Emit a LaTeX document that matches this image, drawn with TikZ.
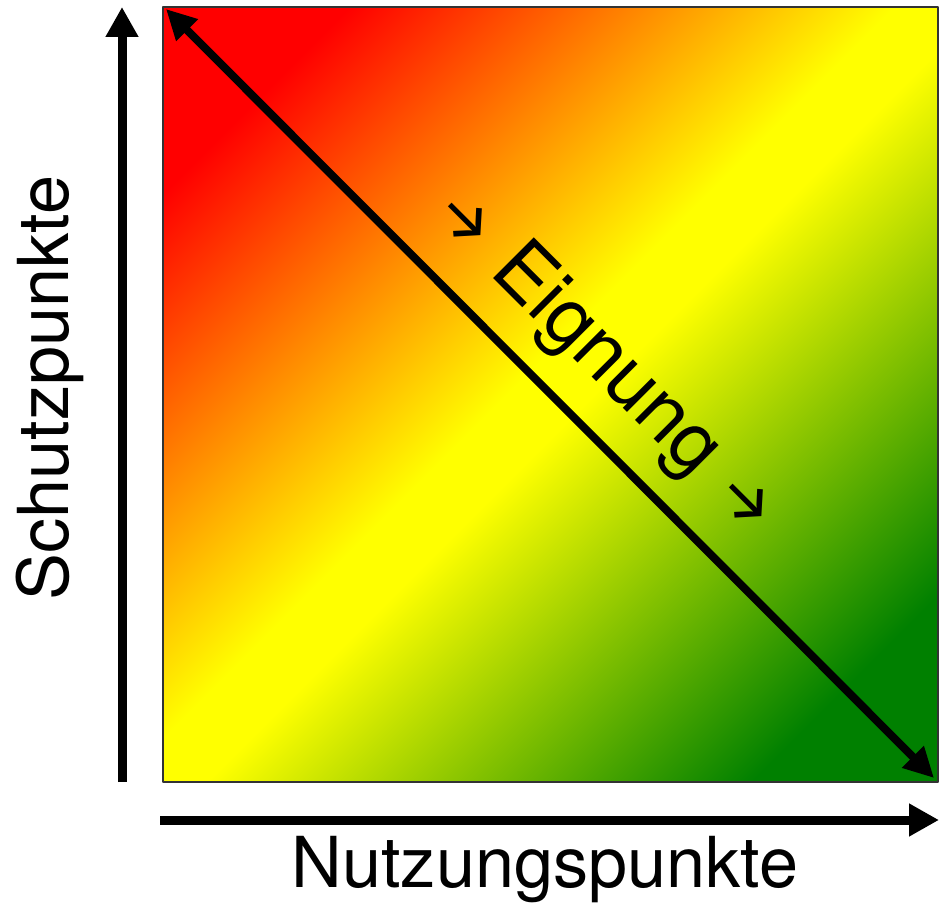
\documentclass[tikz,border=0pt]{standalone}
\usepackage{fontspec}
\setmainfont{TeX Gyre Heros}
\newfontfamily\arrowfont{Fira Sans}
\usepackage{tikz}
\usetikzlibrary{arrows.meta}

\definecolor{suitred}{RGB}{255,0,0}
\definecolor{suityellow}{RGB}{255,255,0}
\definecolor{suitgreen}{RGB}{0,128,0}
\pgfdeclarehorizontalshading{suitshade}{100bp}{color(0bp)=(suitred); color(23bp)=(suitred);
  color(48bp)=(suityellow); color(52bp)=(suityellow); color(77bp)=(suitgreen); color(100bp)=(suitgreen)}

\newcommand{\dirarrow}{{\arrowfont\fontsize{37}{37}\selectfont →}}

\tikzset{
  axisarrow/.style={line width=0.18cm, -{Triangle[length=0.6cm,width=0.62cm]}},
  diagarrow/.style={line width=0.16cm, {Triangle[length=0.6cm,width=0.58cm]}-{Triangle[length=0.6cm,width=0.58cm]}},
  axislabel/.style={font=\fontsize{40}{40}\selectfont, inner sep=0pt},
  difflabel/.style={font=\fontsize{45}{45}\selectfont, inner sep=0pt, anchor=base, rotate=-45},
}

\begin{document}
\begin{tikzpicture}[x=0.02cm, y=-0.02cm, line join=round]
  \useasboundingbox (0,0) rectangle (940,908);
  \coordinate (TL) at (163,7);
  \coordinate (BR) at (938,782);
  \coordinate (Ybot) at (122,782);
  \coordinate (Ytop) at (122,7);
  \coordinate (Xleft) at (160,820);
  \coordinate (Xright) at (939,820);
  \coordinate (Dstart) at (166,9);
  \coordinate (Dend) at (934,778);
  % colour field
  \shade[shading=suitshade, shading angle=-45] (TL) rectangle (BR);
  \draw[line width=1.2pt, black!80] (TL) rectangle (BR);
  % axes
  \draw[axisarrow] (Ybot) -- (Ytop);
  \draw[axisarrow] (Xleft) -- (Xright);
  \draw[diagarrow] (Dstart) -- (Dend);
  % labels
  \node[axislabel, rotate=90] (schutz) at (50,388) {Schutzpunkte};
  \node[axislabel] (nutzung) at (545,870) {Nutzungspunkte};
  \node[difflabel] (eignung) at (591,376) {\dirarrow\hspace{14pt}Eignung\hspace{14pt}\dirarrow};
\end{tikzpicture}
\end{document}
